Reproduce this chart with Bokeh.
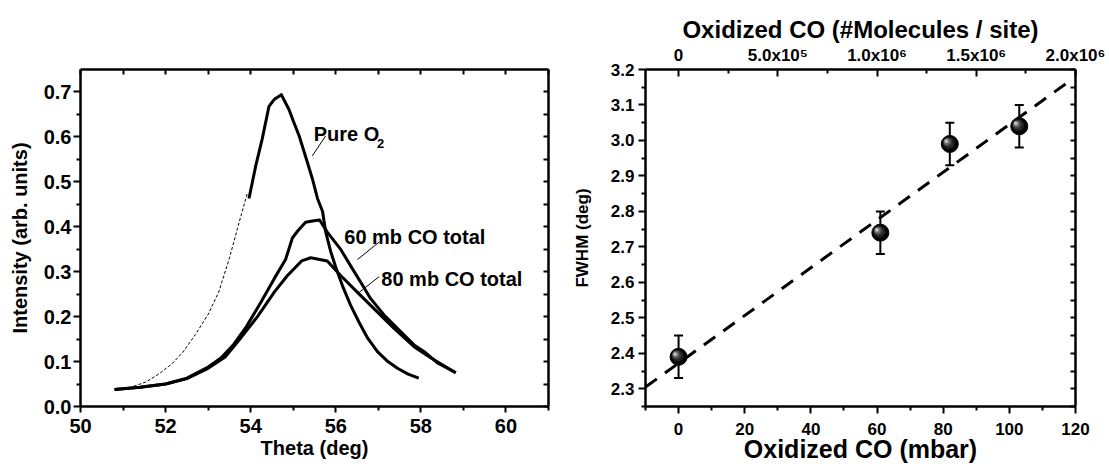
from bokeh.plotting import figure
from bokeh.models import (Range1d, LinearAxis, FixedTicker, NumeralTickFormatter,
                          Whisker, ColumnDataSource, TeeHead, Label)
from bokeh.layouts import row
from bokeh.embed import file_html
from bokeh.resources import INLINE

FONT = "Liberation Sans"

# ---------------- left panel data (Theta scans) ----------------
pure_theta = [53.96, 54.12, 54.27, 54.43, 54.55, 54.72, 54.90, 55.02, 55.14, 55.33,
              55.45, 55.57, 55.69, 55.76, 55.88, 56.00, 56.16, 56.35, 56.55, 56.75,
              56.98, 57.20, 57.45, 57.70, 57.95]
pure_int = [0.463, 0.536, 0.595, 0.668, 0.683, 0.694, 0.661, 0.631, 0.602, 0.544,
            0.507, 0.463, 0.434, 0.390, 0.345, 0.310, 0.268, 0.225, 0.187, 0.152,
            0.122, 0.102, 0.085, 0.072, 0.063]

pure_ext_theta = [51.25, 51.55, 51.85, 52.15, 52.40, 52.70, 53.00, 53.25, 53.50, 53.70, 53.92]
pure_ext_int = [0.045, 0.055, 0.073, 0.095, 0.120, 0.160, 0.205, 0.255, 0.330, 0.400, 0.474]

co60_theta = [50.80, 51.40, 52.00, 52.50, 53.00, 53.30, 53.60, 53.90, 54.24, 54.55,
              54.82, 54.98, 55.10, 55.29, 55.45, 55.62, 55.80, 56.12, 56.35, 56.59,
              56.82, 57.14, 57.53, 57.84, 58.08, 58.39, 58.82]
co60_int = [0.038, 0.043, 0.050, 0.063, 0.088, 0.108, 0.138, 0.178, 0.232, 0.284,
            0.327, 0.375, 0.390, 0.410, 0.413, 0.415, 0.388, 0.349, 0.313, 0.276,
            0.240, 0.203, 0.166, 0.137, 0.122, 0.097, 0.075]

co80_theta = [50.80, 51.40, 52.00, 52.50, 53.00, 53.40, 53.76, 54.16, 54.55, 54.86,
              55.20, 55.41, 55.80, 56.12, 56.51, 56.98, 57.37, 57.84, 58.24, 58.82]
co80_int = [0.038, 0.043, 0.050, 0.062, 0.085, 0.110, 0.152, 0.200, 0.254, 0.291,
            0.324, 0.331, 0.324, 0.291, 0.254, 0.210, 0.174, 0.133, 0.108, 0.075]

theta_major = [50, 52, 54, 56, 58, 60]
theta_minor = [51, 53, 55, 57, 59, 61]
int_major = [0.0, 0.1, 0.2, 0.3, 0.4, 0.5, 0.6, 0.7]
int_minor = [0.05, 0.15, 0.25, 0.35, 0.45, 0.55, 0.65]

# ---------------- right panel data (FWHM) ----------------
co_mbar = [0, 61, 82, 103]
fwhm = [2.39, 2.74, 2.99, 3.04]
fwhm_err = [0.06, 0.06, 0.06, 0.06]
fit_intercept = 2.372
fit_slope = 0.00673
fit_x = [-10, 118]

mbar_major = [0, 20, 40, 60, 80, 100, 120]
mbar_minor = [-10, 10, 30, 50, 70, 90, 110]
fwhm_major = [2.3, 2.4, 2.5, 2.6, 2.7, 2.8, 2.9, 3.0, 3.1, 3.2]
fwhm_minor = [2.25, 2.35, 2.45, 2.55, 2.65, 2.75, 2.85, 2.95, 3.05, 3.15]
mol_major = [0, 500000, 1000000, 1500000, 2000000]
mol_minor = [250000, 750000, 1250000, 1750000]
mol_labels = ["0", "5.0x10\u2075", "1.0x10\u2076", "1.5x10\u2076", "2.0x10\u2076"]
mol_per_mbar = 2000000 / 120


def style_axis(ax, tick_size, label_size, maj_in, maj_out, min_in, min_out):
    ax.axis_line_width = 2.5
    ax.axis_line_color = "black"
    ax.major_tick_line_width = 2
    ax.minor_tick_line_width = 2
    ax.major_tick_line_color = "black"
    ax.minor_tick_line_color = "black"
    ax.major_tick_in = maj_in
    ax.major_tick_out = maj_out
    ax.minor_tick_in = min_in
    ax.minor_tick_out = min_out
    ax.major_label_text_font = FONT
    ax.major_label_text_font_style = "bold"
    ax.major_label_text_font_size = tick_size
    ax.major_label_text_color = "black"
    ax.axis_label_text_font = FONT
    ax.axis_label_text_font_style = "bold"
    ax.axis_label_text_font_size = label_size
    ax.axis_label_text_color = "black"


def frame_axis(ticks, minors, tick_in):
    ax = LinearAxis(ticker=FixedTicker(ticks=ticks, minor_ticks=minors))
    style_axis(ax, "10px", "10px", tick_in, 0, tick_in, 0)
    ax.major_label_overrides = {t: "" for t in ticks}
    ax.major_label_standoff = 0
    return ax


# ================= LEFT PANEL =================
left = figure(width=560, height=468, x_range=Range1d(50, 61), y_range=Range1d(0, 0.75),
              output_backend="svg", toolbar_location=None,
              min_border_left=80, min_border_right=12, min_border_top=66, min_border_bottom=60,
              x_axis_label="Theta (deg)", y_axis_label="Intensity (arb. units)")
left.grid.visible = False
left.outline_line_color = None
left.background_fill_color = "white"

xa = left.xaxis[0]
xa.ticker = FixedTicker(ticks=theta_major, minor_ticks=theta_minor)
style_axis(xa, "20px", "20px", 0, 6, 0, 4)
xa.major_label_standoff = 6
xa.axis_label_standoff = 1

ya = left.yaxis[0]
ya.ticker = FixedTicker(ticks=int_major, minor_ticks=int_minor)
ya.formatter = NumeralTickFormatter(format="0.0")
style_axis(ya, "20px", "20px", 0, 7, 0, 4)
ya.major_label_standoff = 2
ya.axis_label_standoff = 10

left.add_layout(frame_axis(theta_major, theta_minor, 5), "above")
left.add_layout(frame_axis(int_major, int_minor, 5), "right")

left.line(pure_ext_theta, pure_ext_int, line_color="black", line_width=1, line_dash="3 2")
left.line(pure_theta, pure_int, line_color="black", line_width=3, line_join="round")
left.line(co60_theta, co60_int, line_color="black", line_width=3, line_join="round")
left.line(co80_theta, co80_int, line_color="black", line_width=3, line_join="round")

# leader lines for annotations
left.segment(x0=[55.76, 57.02, 57.02], y0=[0.602, 0.366, 0.289],
             x1=[55.45, 56.51, 56.51], y1=[0.558, 0.327, 0.251],
             line_color="black", line_width=1)

for tx, ty, txt, fs in [(55.48, 0.607, "Pure O", "20px"),
                        (56.97, 0.585, "2", "13px"),
                        (56.20, 0.377, "60 mb CO total", "20px"),
                        (57.07, 0.284, "80 mb CO total", "20px")]:
    left.add_layout(Label(x=tx, y=ty, text=txt, text_font=FONT, text_font_style="bold",
                          text_font_size=fs, text_color="black", text_baseline="alphabetic"))

# ================= RIGHT PANEL =================
right = figure(width=549, height=468, x_range=Range1d(-10, 120), y_range=Range1d(2.25, 3.2),
               output_backend="svg", toolbar_location=None,
               min_border_left=85, min_border_right=34, min_border_top=69, min_border_bottom=62,
               x_axis_label="Oxidized CO (mbar)", y_axis_label="FWHM (deg)")
right.extra_x_ranges = {"mol": Range1d(-10 * mol_per_mbar, 120 * mol_per_mbar)}
right.grid.visible = False
right.outline_line_color = None

bx = right.xaxis[0]
bx.ticker = FixedTicker(ticks=mbar_major, minor_ticks=mbar_minor)
style_axis(bx, "17px", "25px", 0, 7, 0, 4)
bx.major_label_standoff = 9
bx.axis_label_standoff = -3

ly = right.yaxis[0]
ly.ticker = FixedTicker(ticks=fwhm_major, minor_ticks=fwhm_minor)
ly.formatter = NumeralTickFormatter(format="0.0")
style_axis(ly, "17px", "17px", 0, 7, 0, 4)
ly.major_label_standoff = 4
ly.axis_label_standoff = 16

tx_ax = LinearAxis(x_range_name="mol", axis_label="Oxidized CO (#Molecules / site)",
                   ticker=FixedTicker(ticks=mol_major, minor_ticks=mol_minor))
tx_ax.major_label_overrides = {v: s for v, s in zip(mol_major, mol_labels)}
style_axis(tx_ax, "17px", "24px", 7, 0, 4, 0)
tx_ax.major_label_standoff = 5
tx_ax.axis_label_standoff = 0
right.add_layout(tx_ax, "above")

right.add_layout(frame_axis(fwhm_major, fwhm_minor, 5), "right")

# linear fit (dashed)
fit_y = [fit_intercept + fit_slope * xv for xv in fit_x]
right.line(fit_x, fit_y, line_color="black", line_width=3, line_dash="14 10")

# error bars
err_src = ColumnDataSource(dict(
    x=co_mbar,
    upper=[v + e for v, e in zip(fwhm, fwhm_err)],
    lower=[v - e for v, e in zip(fwhm, fwhm_err)],
))
right.add_layout(Whisker(source=err_src, base="x", upper="upper", lower="lower",
                         dimension="height", line_color="black", line_width=2,
                         upper_head=TeeHead(size=9, line_width=2, line_color="black"),
                         lower_head=TeeHead(size=9, line_width=2, line_color="black")))

# shaded spheres
dx_px = 130 / 430.0
dy_px = 0.95 / 337.0
right.scatter(co_mbar, fwhm, size=17, fill_color="black", line_color="black")
for size, col, ox, oy in [(12, "#202020", -1.0, 1.0), (9, "#3c3c3c", -2.0, 1.8),
                          (6.5, "#6a6a6a", -2.8, 2.3), (4, "#a8a8a8", -3.3, 2.7),
                          (2, "#d8d8d8", -3.6, 2.9)]:
    right.scatter([xv + ox * dx_px for xv in co_mbar], [yv + oy * dy_px for yv in fwhm],
                  size=size, fill_color=col, line_color=None)

layout = row(left, right)
open("out.html", "w").write(file_html(layout, INLINE, title="Theta scans and FWHM"))
